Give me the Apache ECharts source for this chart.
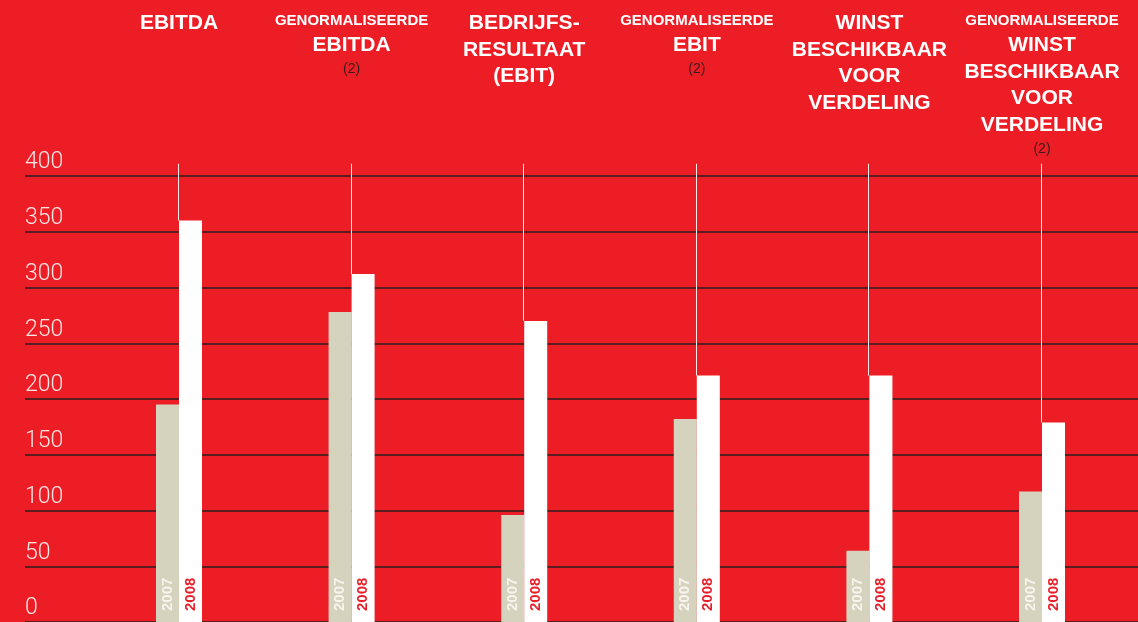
<!DOCTYPE html>
<html>
<head>
<meta charset="utf-8">
<script src="https://cdn.jsdelivr.net/npm/echarts@6/dist/echarts.min.js"></script>
<style>
html,body{margin:0;padding:0;background:#ed1d25;}
#chart{width:1138px;height:622px;}
</style>
</head>
<body>
<div id="chart"></div>
<script>
// ---- data ----
const prefixes = ['', 'GENORMALISEERDE', '', 'GENORMALISEERDE', '', 'GENORMALISEERDE'];
const titles = ['EBITDA', 'EBITDA', 'BEDRIJFS-\nRESULTAAT\n(EBIT)', 'EBIT', 'WINST\nBESCHIKBAAR\nVOOR\nVERDELING', 'WINST\nBESCHIKBAAR\nVOOR\nVERDELING'];
const notes = ['', '(2)', '', '(2)', '', '(2)'];
const categories = ['EBITDA', 'Genormaliseerde EBITDA', 'Bedrijfsresultaat (EBIT)', 'Genormaliseerde EBIT', 'Winst beschikbaar voor verdeling', 'Genormaliseerde winst beschikbaar voor verdeling'];
const years = ['2007', '2008'];
const values2007 = [195, 278, 96, 182, 64, 117];
const values2008 = [360, 312, 270, 221, 221, 179];
const yTicks = [0, 50, 100, 150, 200, 250, 300, 350, 400];

// ---- chart ----
const LEADER_TOP = 411;
const chart = echarts.init(document.getElementById('chart'));

function headerLabel(value, index) {
  const parts = [];
  if (prefixes[index]) parts.push('{s|' + prefixes[index] + '}');
  titles[index].split('\n').forEach(t => parts.push('{b|' + t + '}'));
  if (notes[index]) parts.push('{n|' + notes[index] + '}');
  return parts.join('\n');
}

const yLabelMap = {};
yTicks.forEach(t => yLabelMap[t] = String(t));

chart.setOption({
  backgroundColor: '#ed1d25',
  animation: false,
  grid: [
    {left: 25, right: 0, top: 176, height: 448},
    {left: 92.7, right: 9.7, top: 176, height: 448}
  ],
  xAxis: [
    {gridIndex: 0, type: 'value', min: 0, max: 1, show: false},
    {
      gridIndex: 1, type: 'category', data: categories, position: 'top',
      axisLine: {show: false}, axisTick: {show: false}, splitLine: {show: false},
      axisLabel: {
        interval: 0, margin: 166, verticalAlign: 'top', align: 'center',
        formatter: headerLabel,
        rich: {
          s: {fontFamily: 'Liberation Sans, Arial, sans-serif', fontWeight: 'bold', fontSize: 15, color: '#ffffff', lineHeight: 22},
          b: {fontFamily: 'Liberation Sans, Arial, sans-serif', fontWeight: 'bold', fontSize: 21, color: '#ffffff', lineHeight: 26.5},
          n: {fontFamily: 'Liberation Sans, Arial, sans-serif', fontSize: 14, color: '#3a1c1c', lineHeight: 22}
        }
      }
    }
  ],
  yAxis: [
    {
      gridIndex: 0, type: 'value', min: 0, max: 400, interval: 50,
      axisLine: {show: false}, axisTick: {show: false},
      splitLine: {show: true, lineStyle: {color: '#2a1e1e', width: 1.5}},
      axisLabel: {
        inside: true, align: 'left', verticalAlign: 'bottom', margin: 0,
        padding: [0, 0, 2, 0], lineHeight: 23,
        fontFamily: 'Roboto, Liberation Sans, sans-serif', fontWeight: 300,
        fontSize: 23, color: '#fbe6e6',
        formatter: v => yLabelMap[v] !== undefined ? yLabelMap[v] : ''
      }
    },
    {gridIndex: 1, type: 'value', min: 0, max: 400, show: false, splitLine: {show: false}}
  ],
  series: [
    {
      name: years[0], type: 'bar', xAxisIndex: 1, yAxisIndex: 1,
      data: values2007, barWidth: 23, barGap: 0,
      itemStyle: {color: '#d5d2bd'}, z: 3,
      label: {
        show: true, position: 'insideBottom', rotate: 90, align: 'left', verticalAlign: 'middle',
        distance: 11, formatter: '{a}', fontFamily: 'Liberation Sans, Arial, sans-serif',
        fontWeight: 'bold', fontSize: 15, color: '#f7f5ee'
      }
    },
    {
      name: years[1], type: 'bar', xAxisIndex: 1, yAxisIndex: 1,
      data: values2008, barWidth: 23, barGap: 0,
      itemStyle: {color: '#ffffff'}, z: 3,
      label: {
        show: true, position: 'insideBottom', rotate: 90, align: 'left', verticalAlign: 'middle',
        distance: 11, formatter: '{a}', fontFamily: 'Liberation Sans, Arial, sans-serif',
        fontWeight: 'bold', fontSize: 15, color: '#e8202a'
      }
    },
    {
      type: 'custom', xAxisIndex: 1, yAxisIndex: 1, z: 4, clip: false,
      data: values2008.map((v, i) => [i, v]),
      renderItem: function (params, api) {
        const p = api.coord([api.value(0), api.value(1)]);
        const t = api.coord([api.value(0), LEADER_TOP]);
        const x = Math.round(p[0]) - 0.5;
        return {type: 'line', shape: {x1: x, y1: p[1], x2: x, y2: t[1]},
          style: {stroke: '#ffe8e8', lineWidth: 1}};
      }
    }
  ]
});
</script>
</body>
</html>
